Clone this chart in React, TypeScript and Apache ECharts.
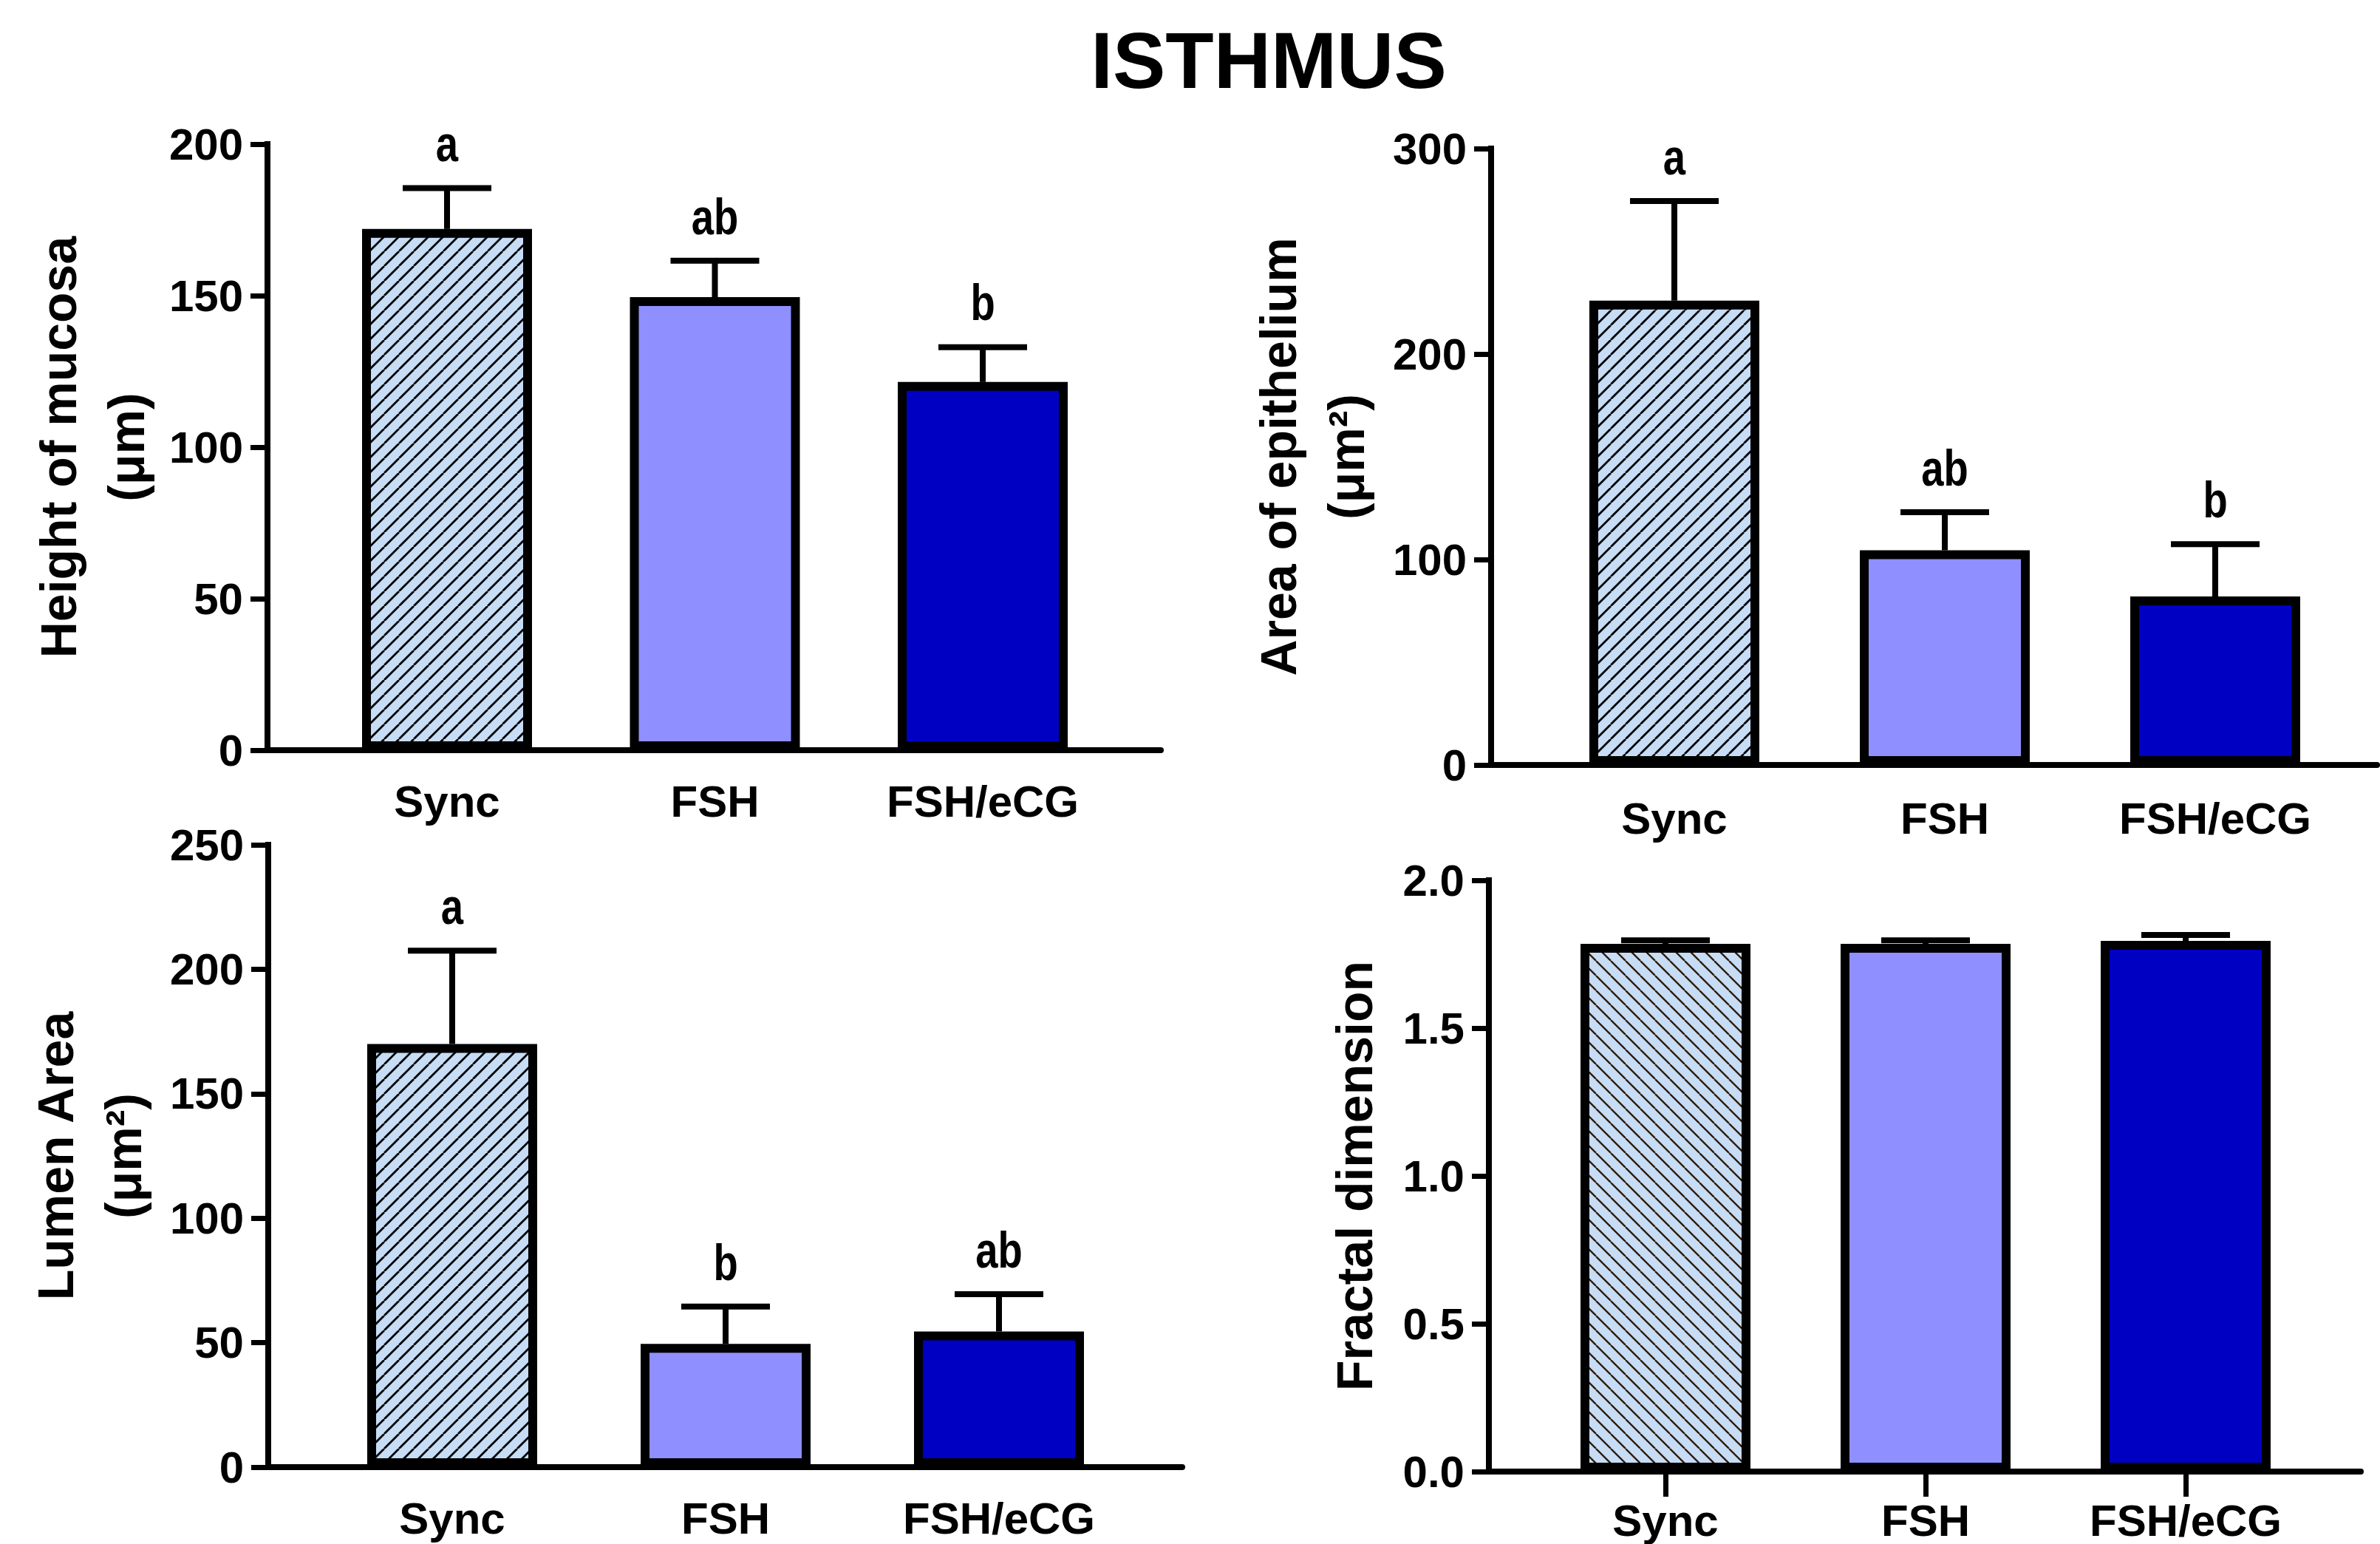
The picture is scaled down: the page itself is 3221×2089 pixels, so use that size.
import React, { useEffect, useRef } from 'react';
import * as echarts from 'echarts';

// ---------- data ----------
const categories = ['Sync', 'FSH', 'FSH/eCG'];

const mucosaMean = [172, 149.5, 121.5];
const mucosaSE = [13.5, 12, 11.5];
const mucosaLetters = ['a', 'ab', 'b'];
const mucosaTicks = [0, 50, 100, 150, 200];

const epitheliumMean = [226, 104.5, 82];
const epitheliumSE = [48.5, 18.5, 25.5];
const epitheliumLetters = ['a', 'ab', 'b'];
const epitheliumTicks = [0, 100, 200, 300];

const lumenMean = [170, 49.5, 54.5];
const lumenSE = [37.5, 15, 15];
const lumenLetters = ['a', 'b', 'ab'];
const lumenTicks = [0, 50, 100, 150, 200, 250];

const fractalMean = [1.785, 1.785, 1.795];
const fractalSE = [0.012, 0.012, 0.02];
const fractalTicks = [0, 0.5, 1.0, 1.5, 2.0];

const FONT = "'Liberation Sans', Arial, Helvetica, sans-serif";

function makeHatch(bg: string, fg: string, lw: number, dir: '/' | '\\', size: number) {
  const c = document.createElement('canvas');
  c.width = size;
  c.height = size;
  const g = c.getContext('2d')!;
  g.fillStyle = bg;
  g.fillRect(0, 0, size, size);
  g.strokeStyle = fg;
  g.lineWidth = lw;
  g.beginPath();
  for (const k of [-1, 0, 1]) {
    if (dir === '/') {
      g.moveTo(k * size, size);
      g.lineTo(k * size + size, 0);
    } else {
      g.moveTo(k * size, 0);
      g.lineTo(k * size + size, size);
    }
  }
  g.stroke();
  return c;
}

interface Panel {
  name: string;
  means: number[];
  ses: number[];
  letters: string[] | null;
  ticks: number[];
  decimals: number;
  axisX: number;
  top: number;
  bottom: number;
  xEnd: number;
  c1: number;
  step: number;
  nameGap: number;
  labelMargin: number;
  xTicks: boolean;
  hatch: any;
}

export default function App() {
  const ref = useRef<HTMLDivElement>(null);

  useEffect(() => {
    document.body.style.margin = '0';
    const chart = echarts.init(ref.current!, null, { renderer: 'svg', width: 3221, height: 2089 });

    const hatchA = {
      image: makeHatch('#C7DCF5', '#000000', 2.8, '/', 20),
      repeat: 'repeat',
      imageWidth: 20,
      imageHeight: 20,
    };
    const hatchB = {
      image: makeHatch('#C7DCF5', '#2E1A05', 2.3, '\\', 20),
      repeat: 'repeat',
      imageWidth: 20,
      imageHeight: 20,
    };

    const panels: Panel[] = [
      {
        name: 'Height of mucosa\n(μm)', means: mucosaMean, ses: mucosaSE, letters: mucosaLetters,
        ticks: mucosaTicks, decimals: 0,
        axisX: 362, top: 195, bottom: 1015, xEnd: 1571, c1: 605, step: 362.5,
        nameGap: 145, labelMargin: 39, xTicks: false, hatch: hatchA,
      },
      {
        name: 'Area of epithelium\n(μm²)', means: epitheliumMean, ses: epitheliumSE, letters: epitheliumLetters,
        ticks: epitheliumTicks, decimals: 0,
        axisX: 2018, top: 201, bottom: 1035, xEnd: 3217, c1: 2266, step: 366,
        nameGap: 150, labelMargin: 42, xTicks: false, hatch: hatchA,
      },
      {
        name: 'Lumen Area\n(μm²)', means: lumenMean, ses: lumenSE, letters: lumenLetters,
        ticks: lumenTicks, decimals: 0,
        axisX: 363, top: 1143, bottom: 1985, xEnd: 1600, c1: 612, step: 370,
        nameGap: 150, labelMargin: 39, xTicks: false, hatch: hatchA,
      },
      {
        name: 'Fractal dimension', means: fractalMean, ses: fractalSE, letters: null,
        ticks: fractalTicks, decimals: 1,
        axisX: 2015, top: 1191, bottom: 1991, xEnd: 3195, c1: 2254, step: 352,
        nameGap: 136, labelMargin: 36, xTicks: true, hatch: hatchB,
      },
    ];

    const grid: any[] = [];
    const xAxis: any[] = [];
    const yAxis: any[] = [];
    const series: any[] = [];

    panels.forEach((p, idx) => {
      const gA = idx * 2;
      const gB = idx * 2 + 1;
      const gridLeft = p.c1 - p.step / 2;
      const h = p.bottom - p.top;
      grid.push({ left: gridLeft, top: p.top, width: p.step * 3, height: h, containLabel: false });
      grid.push({ left: p.axisX, top: p.top, width: p.xEnd - p.axisX, height: h, containLabel: false });

      xAxis.push({
        type: 'category',
        gridIndex: gA,
        data: categories,
        axisLine: { show: false },
        axisTick: {
          show: p.xTicks,
          alignWithLabel: true,
          length: 34,
          lineStyle: { color: '#000', width: 7 },
        },
        axisLabel: {
          margin: p.labelMargin,
          fontSize: 60,
          fontWeight: 'bold',
          fontFamily: FONT,
          color: '#000',
        },
        splitLine: { show: false },
      });
      xAxis.push({
        type: 'value',
        gridIndex: gB,
        min: 0,
        max: 1,
        axisLine: { show: true, onZero: false, lineStyle: { color: '#000', width: 8 } },
        axisTick: { show: false },
        axisLabel: { show: false },
        splitLine: { show: false },
      });

      const interval = p.ticks[1] - p.ticks[0];
      yAxis.push({
        type: 'value',
        gridIndex: gA,
        min: p.ticks[0],
        max: p.ticks[p.ticks.length - 1],
        interval,
        offset: gridLeft - p.axisX,
        name: p.name,
        nameLocation: 'middle',
        nameRotate: 90,
        nameGap: p.nameGap,
        nameTextStyle: {
          fontSize: 68,
          fontWeight: 'bold',
          fontFamily: FONT,
          color: '#000',
          lineHeight: 92,
        },
        axisLine: { show: true, onZero: false, lineStyle: { color: '#000', width: 8, cap: 'square' } },
        axisTick: { show: true, length: 23, lineStyle: { color: '#000', width: 7 } },
        axisLabel: {
          margin: 33,
          fontSize: 60,
          fontWeight: 'bold',
          fontFamily: FONT,
          color: '#000',
          formatter: (v: number) => v.toFixed(p.decimals),
        },
        splitLine: { show: false },
      });
      yAxis.push({ type: 'value', gridIndex: gB, min: 0, max: 1, show: false });

      const fills = [p.hatch, '#8F8FFF', '#0000C2'];
      series.push({
        type: 'bar',
        xAxisIndex: gA,
        yAxisIndex: gA,
        barWidth: 230,
        data: p.means.map((m, i) => ({
          value: m,
          itemStyle: { color: fills[i], borderColor: '#000', borderWidth: 12 },
        })),
        z: 2,
      });
      const letters = p.letters;
      series.push({
        type: 'custom',
        xAxisIndex: gA,
        yAxisIndex: gA,
        z: 3,
        data: p.means.map((m, i) => [i, m, p.ses[i]]),
        renderItem: (params: any, api: any) => {
          const i = params.dataIndex;
          const x = api.value(0);
          const m = api.value(1) as number;
          const se = api.value(2) as number;
          const base = api.coord([x, m]);
          const top = api.coord([x, m + se]);
          const children: any[] = [
            {
              type: 'line',
              shape: { x1: base[0], y1: base[1], x2: top[0], y2: top[1] },
              style: { stroke: '#000', lineWidth: 8 },
            },
            {
              type: 'line',
              shape: { x1: top[0] - 60, y1: top[1], x2: top[0] + 60, y2: top[1] },
              style: { stroke: '#000', lineWidth: 8 },
            },
          ];
          if (letters) {
            children.push({
              type: 'text',
              x: top[0],
              y: top[1] - 60,
              scaleX: 0.8,
              style: {
                text: letters[i],
                fontSize: 68,
                fontWeight: 'bold',
                fontFamily: FONT,
                fill: '#000',
                align: 'center',
                verticalAlign: 'middle',
              },
            });
          }
          return { type: 'group', children };
        },
      });
    });

    chart.setOption({
      animation: false,
      backgroundColor: '#ffffff',
      grid,
      xAxis,
      yAxis,
      series,
      graphic: [
        {
          type: 'text',
          x: 1717,
          y: 82,
          style: {
            text: 'ISTHMUS',
            fontSize: 107,
            fontWeight: 'bold',
            fontFamily: FONT,
            fill: '#000',
            align: 'center',
            verticalAlign: 'middle',
          },
        },
      ],
    });

    return () => chart.dispose();
  }, []);

  return (
    <div
      ref={ref}
      style={{ position: 'absolute', left: 0, top: 0, width: 3221, height: 2089, background: '#fff' }}
    />
  );
}
